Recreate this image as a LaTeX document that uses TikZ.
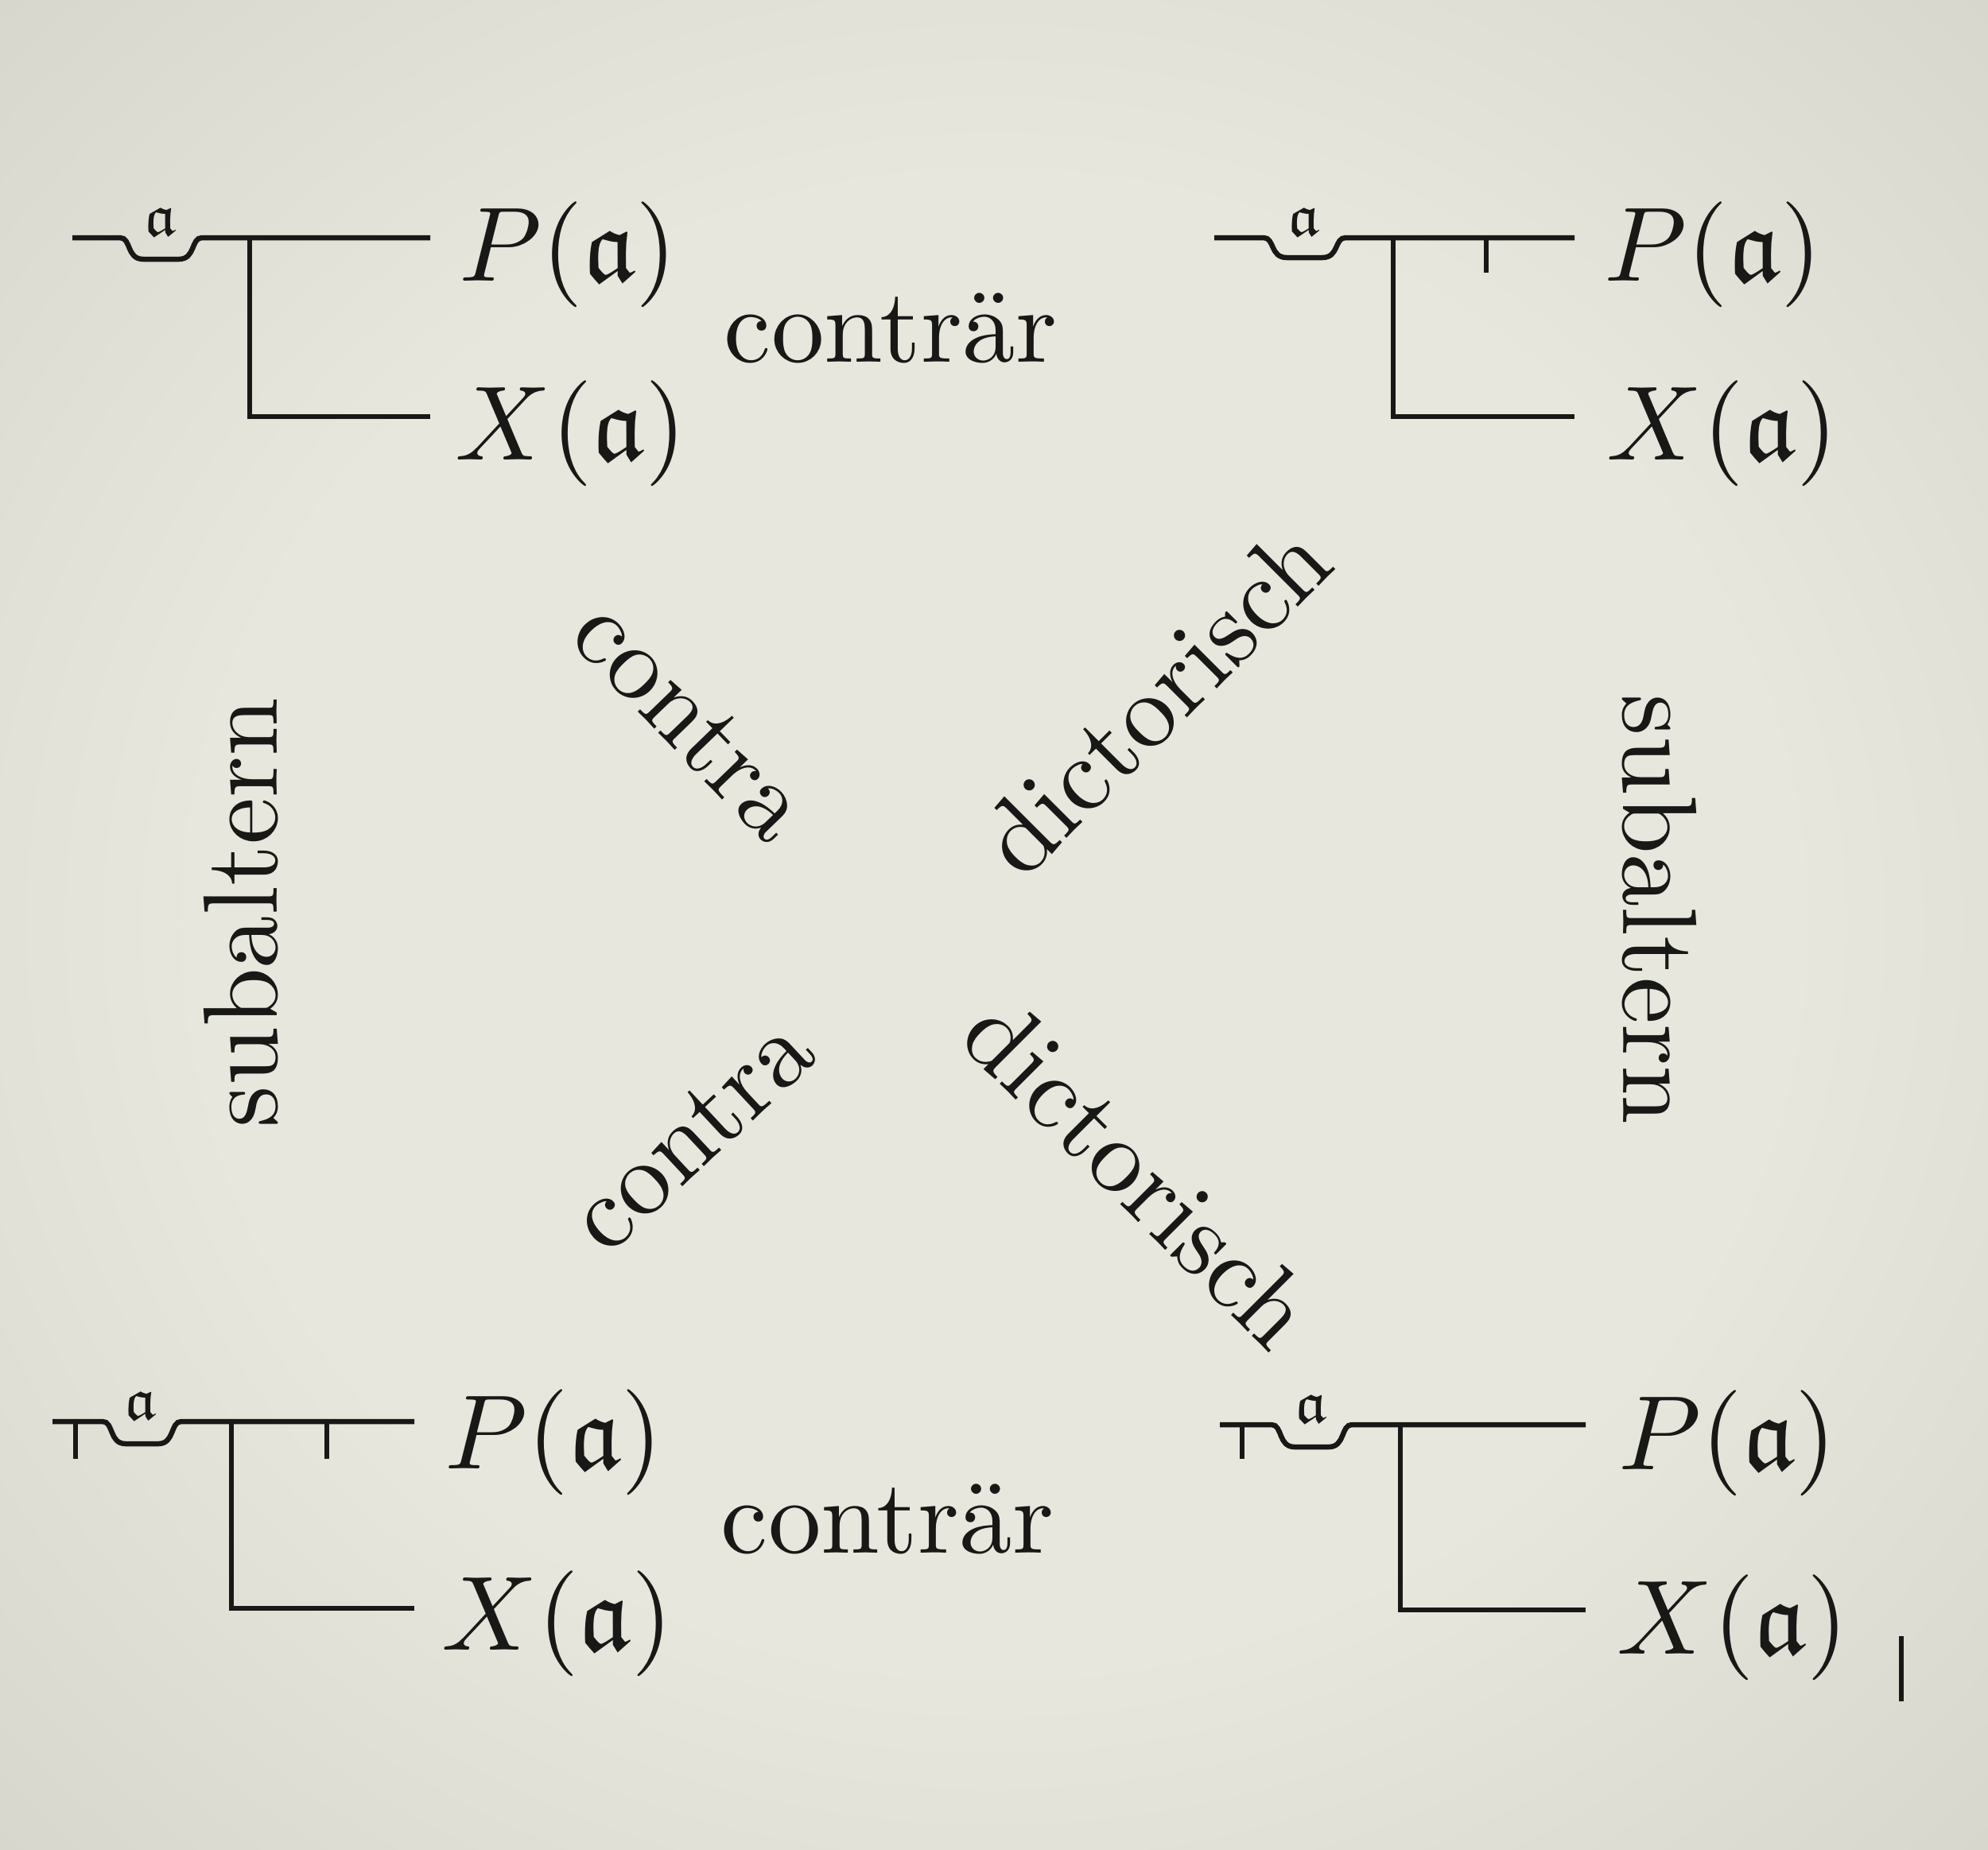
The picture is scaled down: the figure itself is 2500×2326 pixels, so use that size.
\documentclass[tikz,border=0pt]{standalone}
\usepackage{amssymb}
\definecolor{FregeInk}{RGB}{24,24,22}
\definecolor{FregePaper}{RGB}{232,231,222}
\definecolor{FregeMid}{RGB}{204,204,195}
\definecolor{FregeShadow}{RGB}{150,150,142}
\pgfdeclareradialshading{fregevignette}{\pgfpoint{0bp}{0bp}}{color(0bp)=(FregePaper); color(20bp)=(FregePaper); color(46bp)=(FregeMid); color(72bp)=(FregeShadow)}
\tikzset{fstroke/.style={line width=0.065cm, draw=FregeInk}, fnot/.style={line width=0.06cm, draw=FregeInk}, fterm/.style={anchor=base west, inner sep=0pt, text=FregeInk, font=\fontsize{10}{12}\selectfont, scale=3.78}, fvar/.style={anchor=base, inner sep=0pt, text=FregeInk, font=\fontsize{7}{8}\selectfont, scale=3.0}, frel/.style={inner sep=0pt, text=FregeInk, font=\fontsize{10}{12}\selectfont, scale=3.78}}

\begin{document}
\begin{tikzpicture}[x=0.01cm, y=-0.01cm]
\shade[shading=fregevignette] (0,0) rectangle (2500,2326);
\useasboundingbox (0,0) rectangle (2500,2326);
\draw[fstroke] (91,299) -- (151,299) .. controls (165,299) and (159,326) .. (180,326) -- (225,326) .. controls (246,326) and (240,299) .. (254,299) -- (541,299);
\draw[fstroke] (314,299) -- (314,524) -- (541,524);
\node[fvar] (tlvar) at (202,296) {$\mathfrak{a}$};
\node[fterm] (tlP) at (575,353) {$P(\mathfrak{a})$};
\node[fterm] (tlX) at (570,578) {$X(\mathfrak{a})$};
\draw[fstroke] (1527,299) -- (1589,299) .. controls (1603,299) and (1597,324) .. (1618,324) -- (1663,324) .. controls (1684,324) and (1678,299) .. (1692,299) -- (1980,299);
\draw[fnot] (1869,299) -- (1869,343);
\draw[fstroke] (1752,299) -- (1752,524) -- (1980,524);
\node[fvar] (trvar) at (1640,296) {$\mathfrak{a}$};
\node[fterm] (trP) at (2015,353) {$P(\mathfrak{a})$};
\node[fterm] (trX) at (2018,578) {$X(\mathfrak{a})$};
\draw[fstroke] (66,1788) -- (129,1788) .. controls (143,1788) and (137,1816) .. (158,1816) -- (199,1816) .. controls (220,1816) and (214,1788) .. (228,1788) -- (521,1788);
\draw[fnot] (95,1788) -- (95,1835);
\draw[fnot] (411,1788) -- (411,1835);
\draw[fstroke] (291,1788) -- (291,2023) -- (521,2023);
\node[fvar] (blvar) at (177,1785) {$\mathfrak{a}$};
\node[fterm] (blP) at (557,1847) {$P(\mathfrak{a})$};
\node[fterm] (blX) at (553,2075) {$X(\mathfrak{a})$};
\draw[fstroke] (1534,1792) -- (1599,1792) .. controls (1613,1792) and (1607,1820) .. (1628,1820) -- (1671,1820) .. controls (1692,1820) and (1686,1792) .. (1700,1792) -- (1994,1792);
\draw[fnot] (1562,1792) -- (1562,1835);
\draw[fstroke] (1761,1792) -- (1761,2025) -- (1994,2025);
\node[fvar] (brvar) at (1649,1789) {$\mathfrak{a}$};
\node[fterm] (brP) at (2033,1848) {$P(\mathfrak{a})$};
\node[fterm] (brX) at (2031,2080) {$X(\mathfrak{a})$};
\draw[fstroke] (2391,2058) -- (2391,2140);
\node[frel, anchor=base] (topcontr) at (1120,455) {conträr};
\node[frel, anchor=base] (botcontr) at (1116,1953) {conträr};
\node[frel, anchor=base, rotate=90] (leftsub) at (348,1148) {subaltern};
\node[frel, anchor=base, rotate=-90] (rightsub) at (2041,1144) {subaltern};
\node[frel, rotate=-46] (tlcontra) at (868,906) {contra};
\node[frel, rotate=45] (trdict) at (1452,880) {dictorisch};
\node[frel, rotate=43] (blcontra) at (870,1427) {contra};
\node[frel, rotate=-45] (brdict) at (1432,1474) {dictorisch};
\end{tikzpicture}
\end{document}
